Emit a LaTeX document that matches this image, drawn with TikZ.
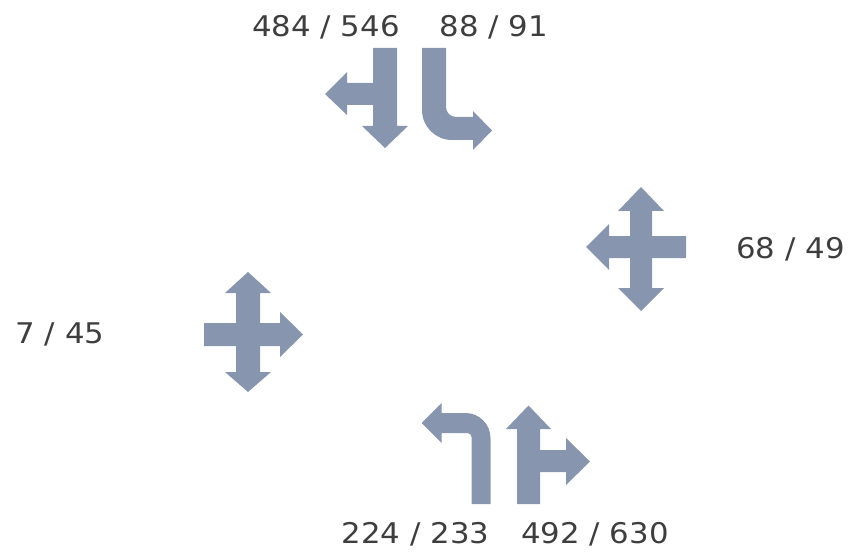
\documentclass[tikz,border=0pt]{standalone}
\usepackage{fontspec}
\setmainfont{DejaVu Sans}
\definecolor{arrowc}{RGB}{136,149,175}
\definecolor{textc}{RGB}{62,62,62}
\begin{document}
\begin{tikzpicture}[x=1pt,y=-1pt,
  arr/.style={fill=arrowc,draw=none},
  lbl/.style={anchor=base,inner sep=0pt,text=textc,xscale=1.08,font=\fontsize{28.5}{31}\selectfont}]
\useasboundingbox (0,0) rectangle (851,556);
% top-left: down + left
\fill[arr] (373,48) -- (397,48) -- (397,126) -- (408,126) -- (385,148) -- (362,126) -- (373,126)
  -- (373,105) -- (347,105) -- (347,115) -- (325,94) -- (347,72) -- (347,83) -- (373,83) -- cycle;
% top-right: down then right
\fill[arr] (446,48) -- (422,48) -- (422,110) .. controls (422,126.6) and (435.4,140) .. (452,140)
  -- (473,140) -- (473,150) -- (492,130.5) -- (473,111) -- (473,117) -- (456,117)
  .. controls (450.5,117) and (446,112.5) .. (446,107) -- cycle;
% right cross
\fill[arr] (641,187) -- (664,211) -- (652,211) -- (652,236) -- (686,236) -- (686,258) -- (652,258)
  -- (652,288) -- (664,288) -- (641,311) -- (618,288) -- (630,288) -- (630,258) -- (609,258)
  -- (609,270) -- (586,247) -- (609,224) -- (609,236) -- (630,236) -- (630,211) -- (618,211) -- cycle;
% left cross
\fill[arr] (248,272) -- (271,293) -- (260,293) -- (260,323) -- (280,323) -- (280,312) -- (303,334.5)
  -- (280,357) -- (280,346) -- (260,346) -- (260,372) -- (271,372) -- (248,392) -- (225,372)
  -- (236,372) -- (236,346) -- (204,346) -- (204,323) -- (236,323) -- (236,293) -- (225,293) -- cycle;
% bottom-left: up then left
\fill[arr] (471.5,504) -- (471.5,437) .. controls (471.5,434.8) and (469.7,433) .. (467.5,433)
  -- (441.7,433) -- (441.7,443) -- (421.5,423) -- (441.7,403) -- (441.7,413) -- (465.5,413)
  .. controls (479.3,413) and (490.5,424.2) .. (490.5,438) -- (490.5,504) -- cycle;
% bottom-right: up + right
\fill[arr] (528.5,405.5) -- (551,429) -- (540,429) -- (540,450) -- (566,450) -- (566,438)
  -- (590,461.5) -- (566,485) -- (566,472) -- (540,472) -- (540,504) -- (517,504) -- (517,429)
  -- (506,429) -- cycle;
% labels
\node[lbl] (tl) at (326,37) {484 / 546};
\node[lbl] (tr) at (494,37) {88 / 91};
\node[lbl] (r) at (790.5,258) {68 / 49};
\node[lbl] (l) at (60,343) {7 / 45};
\node[lbl] (bl) at (415.5,543) {224 / 233};
\node[lbl] (br) at (595,543) {492 / 630};
\end{tikzpicture}
\end{document}
